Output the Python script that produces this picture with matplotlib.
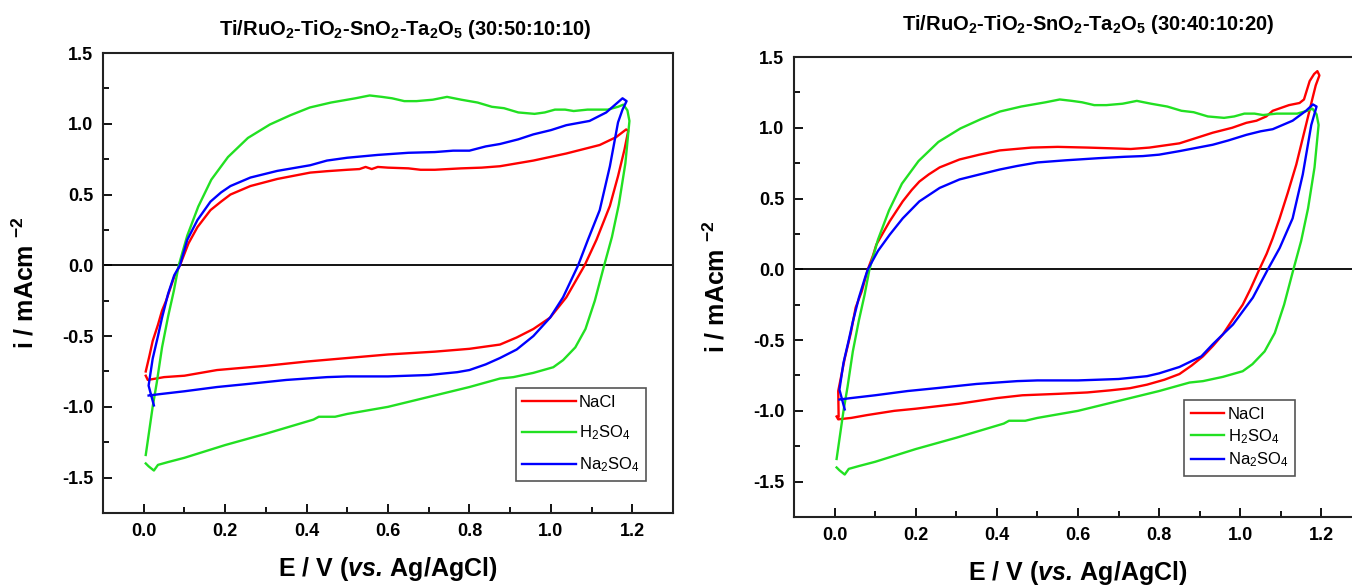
import matplotlib
matplotlib.use("Agg")
import matplotlib.pyplot as plt
from matplotlib.ticker import MultipleLocator

plt.rcParams['font.family'] = 'Liberation Sans'
plt.rcParams['mathtext.fontset'] = 'custom'
plt.rcParams['mathtext.rm'] = 'Liberation Sans'
plt.rcParams['mathtext.it'] = 'Liberation Sans:italic'
plt.rcParams['mathtext.bf'] = 'Liberation Sans:bold'
plt.rcParams['mathtext.bfit'] = 'Liberation Sans:italic:bold'
plt.rcParams['axes.unicode_minus'] = False

# cyclic voltammograms: potential E (V vs Ag/AgCl) and current density i (mA cm^-2)
# each loop runs the anodic sweep 0 -> 1.2 V and then back

# H2SO4 (same in both coatings)
e_h2so4 = [0.005, 0.012, 0.022, 0.032, 0.045, 0.06, 0.074, 0.086, 0.107, 0.134,
           0.166, 0.207, 0.256, 0.31, 0.36, 0.408, 0.46, 0.52, 0.555, 0.585,
           0.61, 0.64, 0.67, 0.71, 0.745, 0.78, 0.82, 0.855, 0.885, 0.92,
           0.96, 0.985, 1.01, 1.035, 1.056, 1.09, 1.14, 1.165, 1.178, 1.188, 1.193,
           1.183, 1.167, 1.15, 1.131, 1.108, 1.085, 1.06, 1.03, 1.006, 0.957,
           0.908, 0.875, 0.8, 0.7, 0.6, 0.5, 0.47, 0.43, 0.417, 0.3,
           0.2, 0.1, 0.06, 0.035, 0.025, 0.012, 0.005]
i_h2so4 = [-1.34, -1.2, -1.0, -0.83, -0.58, -0.36, -0.18, 0.0, 0.21, 0.415,
           0.605, 0.765, 0.90, 0.995, 1.06, 1.115, 1.15, 1.18, 1.20, 1.19,
           1.18, 1.16, 1.16, 1.17, 1.19, 1.17, 1.15, 1.12, 1.11, 1.08,
           1.07, 1.08, 1.10, 1.10, 1.09, 1.10, 1.10, 1.12, 1.135, 1.095, 1.02,
           0.72, 0.43, 0.20, 0.0, -0.25, -0.45, -0.58, -0.67, -0.72, -0.76,
           -0.79, -0.80, -0.86, -0.93, -1.0, -1.05, -1.07, -1.07, -1.09, -1.19,
           -1.27, -1.36, -1.39, -1.41, -1.45, -1.42, -1.40]

# Na2SO4, 30:50:10:10 coating
e_na2so4_a = [0.025, 0.012, 0.022, 0.035, 0.045, 0.06, 0.075, 0.089, 0.107, 0.132,
              0.164, 0.19, 0.213, 0.262, 0.328, 0.409, 0.45, 0.5, 0.575, 0.65,
              0.715, 0.76, 0.8, 0.84, 0.875, 0.92, 0.957, 1.0, 1.038, 1.095,
              1.136, 1.16, 1.176, 1.186,
              1.176, 1.165, 1.145, 1.12, 1.091, 1.067, 1.03, 0.998, 0.957, 0.916,
              0.875, 0.84, 0.8, 0.77, 0.7, 0.6, 0.5, 0.45, 0.35, 0.25,
              0.18, 0.1, 0.04, 0.012]
i_na2so4_a = [-0.99, -0.85, -0.66, -0.5, -0.37, -0.2, -0.07, 0.0, 0.18, 0.32,
              0.45, 0.515, 0.56, 0.62, 0.667, 0.707, 0.74, 0.76, 0.78, 0.795,
              0.80, 0.81, 0.81, 0.84, 0.857, 0.89, 0.925, 0.955, 0.99, 1.02,
              1.08, 1.14, 1.18, 1.16,
              1.10, 1.01, 0.70, 0.39, 0.18, 0.0, -0.226, -0.37, -0.50, -0.595,
              -0.655, -0.70, -0.74, -0.755, -0.775, -0.785, -0.785, -0.79, -0.81, -0.84,
              -0.86, -0.89, -0.91, -0.92]

# Na2SO4, 30:40:10:20 coating
e_na2so4_b = [0.025, 0.012, 0.022, 0.035, 0.045, 0.06, 0.075, 0.082, 0.107, 0.136,
              0.168, 0.209, 0.259, 0.308, 0.357, 0.407, 0.45, 0.5, 0.569, 0.65,
              0.715, 0.76, 0.8, 0.85, 0.932, 0.97, 1.015, 1.05, 1.08, 1.129,
              1.162, 1.179, 1.188,
              1.183, 1.175, 1.154, 1.129, 1.097, 1.068, 1.031, 0.982, 0.932, 0.904,
              0.85, 0.8, 0.77, 0.7, 0.6, 0.5, 0.45, 0.35, 0.25, 0.18,
              0.1, 0.04, 0.012]
i_na2so4_b = [-0.99, -0.85, -0.66, -0.5, -0.37, -0.2, -0.06, 0.0, 0.13, 0.245,
              0.36, 0.48, 0.575, 0.635, 0.67, 0.705, 0.73, 0.755, 0.77, 0.785,
              0.795, 0.80, 0.81, 0.835, 0.88, 0.91, 0.95, 0.975, 0.99, 1.05,
              1.12, 1.165, 1.15,
              1.10, 1.02, 0.67, 0.36, 0.15, 0.0, -0.20, -0.39, -0.53, -0.615,
              -0.69, -0.735, -0.755, -0.775, -0.785, -0.785, -0.79, -0.81, -0.84, -0.86,
              -0.89, -0.91, -0.92]

# NaCl, 30:50:10:10 coating
e_nacl_a = [0.005, 0.014, 0.022, 0.035, 0.045, 0.055, 0.075, 0.089, 0.11, 0.132,
            0.164, 0.19, 0.213, 0.262, 0.328, 0.409, 0.45, 0.5, 0.53, 0.545,
            0.56, 0.575, 0.6, 0.65, 0.68, 0.715, 0.78, 0.83, 0.875, 0.957,
            1.038, 1.12, 1.16, 1.185, 1.19,
            1.181, 1.165, 1.145, 1.112, 1.083, 1.038, 0.998, 0.957, 0.916, 0.875,
            0.8, 0.715, 0.6, 0.5, 0.4, 0.3, 0.18, 0.1, 0.05, 0.01, 0.005]
i_nacl_a = [-0.75, -0.64, -0.535, -0.42, -0.32, -0.25, -0.08, 0.0, 0.155, 0.27,
            0.39, 0.45, 0.50, 0.56, 0.61, 0.655, 0.665, 0.675, 0.68, 0.695,
            0.68, 0.695, 0.69, 0.685, 0.675, 0.675, 0.685, 0.69, 0.70, 0.74,
            0.79, 0.85, 0.905, 0.96, 0.95,
            0.82, 0.63, 0.42, 0.18, 0.0, -0.226, -0.37, -0.45, -0.51, -0.56,
            -0.59, -0.61, -0.63, -0.655, -0.68, -0.71, -0.74, -0.78, -0.79, -0.81, -0.78]

# NaCl, 30:40:10:20 coating
e_nacl_b = [0.01, 0.009, 0.025, 0.04, 0.052, 0.067, 0.082, 0.095, 0.103, 0.12,
            0.136, 0.168, 0.19, 0.209, 0.232, 0.259, 0.308, 0.357, 0.407, 0.485,
            0.55, 0.624, 0.68, 0.73, 0.776, 0.85, 0.932, 0.98, 1.015, 1.04,
            1.064, 1.08, 1.1, 1.12, 1.146, 1.157, 1.171, 1.182, 1.19, 1.195,
            1.186, 1.179, 1.162, 1.138, 1.117, 1.097, 1.08, 1.065, 1.047, 1.025,
            1.006, 0.98, 0.957, 0.933, 0.908, 0.88, 0.85, 0.813, 0.77, 0.728,
            0.68, 0.623, 0.55, 0.463, 0.4, 0.306, 0.2, 0.147, 0.08, 0.041,
            0.009, 0.005]
i_nacl_b = [-1.04, -0.86, -0.63, -0.45, -0.27, -0.156, 0.0, 0.1, 0.175, 0.26,
            0.34, 0.48, 0.56, 0.62, 0.67, 0.72, 0.776, 0.81, 0.84, 0.86,
            0.865, 0.86, 0.855, 0.85, 0.86, 0.89, 0.965, 1.0, 1.035, 1.05,
            1.08, 1.12, 1.14, 1.16, 1.175, 1.20, 1.33, 1.38, 1.40, 1.37,
            1.30, 1.22, 1.02, 0.74, 0.54, 0.36, 0.22, 0.11, 0.0, -0.14,
            -0.25, -0.36, -0.46, -0.54, -0.615, -0.68, -0.74, -0.78, -0.815, -0.84,
            -0.855, -0.87, -0.88, -0.89, -0.91, -0.95, -0.985, -1.0, -1.03, -1.05,
            -1.06, -1.04]

labels = ['NaCl', 'H$_2$SO$_4$', 'Na$_2$SO$_4$']
colors = ['#ff0000', '#22e022', '#0000ff']
titles = [r'Ti/RuO$_\mathbf{2}$-TiO$_\mathbf{2}$-SnO$_\mathbf{2}$-Ta$_\mathbf{2}$O$_\mathbf{5}$ (30:50:10:10)',
          r'Ti/RuO$_\mathbf{2}$-TiO$_\mathbf{2}$-SnO$_\mathbf{2}$-Ta$_\mathbf{2}$O$_\mathbf{5}$ (30:40:10:20)']


def draw_panel(ax, curves, legend_anchor, handlelen, spacing):
    for (e, i), lab, c in zip(curves, labels, colors):
        ax.plot(e, i, color=c, lw=1.7, label=lab)
    ax.axhline(0, color='black', lw=1.3, zorder=1)
    ax.set_xlim(-0.1, 1.3)
    ax.set_ylim(-1.75, 1.5)
    ax.xaxis.set_major_locator(MultipleLocator(0.2))
    ax.xaxis.set_minor_locator(MultipleLocator(0.1))
    ax.set_yticks([-1.5, -1.0, -0.5, 0.0, 0.5, 1.0, 1.5])
    ax.yaxis.set_minor_locator(MultipleLocator(0.25))
    ax.tick_params(which='both', direction='in', top=False, right=False,
                   width=1.3, labelsize=13, pad=7)
    ax.tick_params(which='major', length=6.5)
    ax.tick_params(which='minor', length=4)
    for t in ax.get_xticklabels() + ax.get_yticklabels():
        t.set_fontweight('bold')
    for s in ax.spines.values():
        s.set_linewidth(1.5)
        s.set_color('#222222')
    ax.set_xlabel(r'E / V ($\mathbfit{vs.}\,$Ag/AgCl)', fontsize=18, fontweight='bold')
    ax.set_ylabel(r'i / mAcm $^{\mathbf{-2}}$', fontsize=18, fontweight='bold')
    ax.xaxis.set_label_coords(0.5, -0.092)
    ax.yaxis.set_label_coords(-0.114, 0.5)
    leg = ax.legend(loc='lower right', bbox_to_anchor=legend_anchor, borderaxespad=0,
                    fontsize=12, handlelength=handlelen, labelspacing=spacing,
                    handletextpad=0.2, borderpad=0.4, fancybox=False, framealpha=1)
    leg.get_frame().set_edgecolor('#555555')
    leg.get_frame().set_linewidth(1.2)


fig = plt.figure(figsize=(13.52, 5.87), dpi=100)
ax1 = fig.add_axes([103 / 1352, 74 / 587, 570 / 1352, 460 / 587])
ax2 = fig.add_axes([794 / 1352, 70 / 587, 568 / 1352, 460 / 587])

draw_panel(ax1, [(e_nacl_a, i_nacl_a), (e_h2so4, i_h2so4), (e_na2so4_a, i_na2so4_a)],
           (0.953, 0.07), 3.2, 0.8)
draw_panel(ax2, [(e_nacl_b, i_nacl_b), (e_h2so4, i_h2so4), (e_na2so4_b, i_na2so4_b)],
           (0.882, 0.089), 2.0, 0.3)

fig.text(405 / 1352, 1 - 35 / 587, titles[0], ha='center', va='baseline',
         fontsize=14.5, fontweight='bold')
fig.text(1088 / 1352, 1 - 30 / 587, titles[1], ha='center', va='baseline',
         fontsize=14.5, fontweight='bold')

fig.savefig('out.png', dpi=100)
